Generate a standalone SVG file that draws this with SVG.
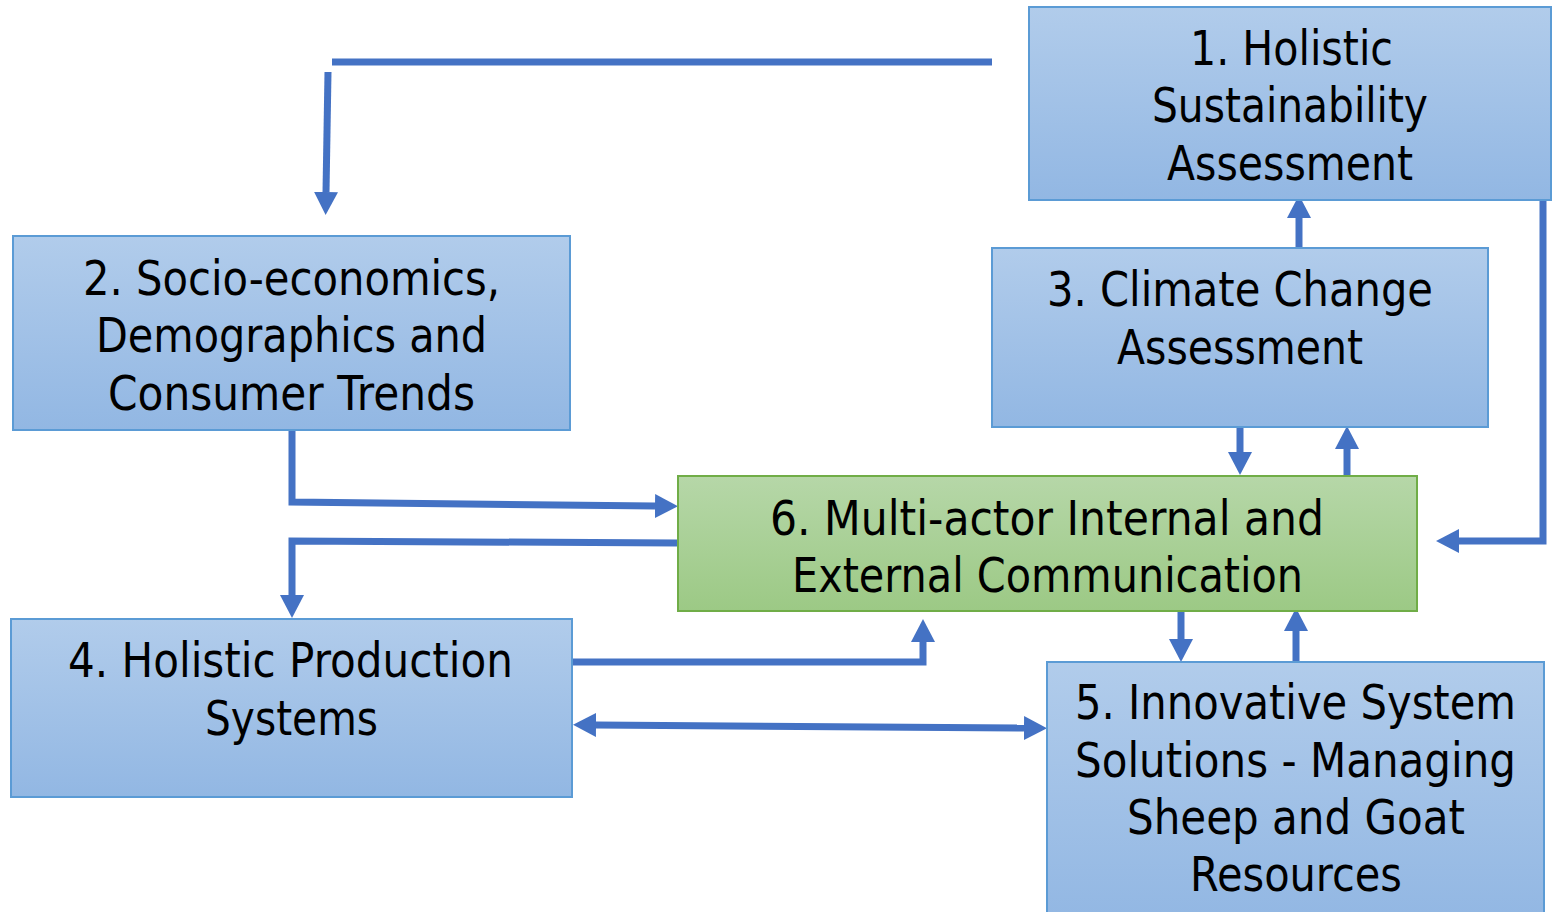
<svg xmlns="http://www.w3.org/2000/svg" width="1556" height="912" viewBox="0 0 1556 912">
<defs>
<linearGradient id="gBlue" x1="0" y1="0" x2="0" y2="1">
<stop offset="0" stop-color="#B1CCEB"/>
<stop offset="1" stop-color="#92B7E3"/>
</linearGradient>
<linearGradient id="gGreen" x1="0" y1="0" x2="0" y2="1">
<stop offset="0" stop-color="#B6D7A8"/>
<stop offset="1" stop-color="#9CC985"/>
</linearGradient>
<marker id="ah" markerUnits="userSpaceOnUse" markerWidth="24" markerHeight="24" viewBox="0 0 24 24" refX="0" refY="12" orient="auto-start-reverse">
<path d="M0,0 L23,12 L0,24 z" fill="#4472C4"/>
</marker>
</defs>
<style>
.box{fill:url(#gBlue);stroke:#5B9BD5;stroke-width:2}
.gbox{fill:url(#gGreen);stroke:#70AD47;stroke-width:2}
text{font-family:"DejaVu Sans","Liberation Sans",sans-serif;font-size:48px;fill:#000}
.c{fill:none;stroke:#4472C4;stroke-width:7;stroke-linejoin:miter}
</style>
<rect width="1556" height="912" fill="#fff"/>
<g id="connectors">
<path class="c" d="M332,62 H992"/>
<path class="c" d="M328,72 L326,192" marker-end="url(#ah)"/>
<path class="c" d="M292,430 V502 L655,506" marker-end="url(#ah)"/>
<path class="c" d="M677,543 L292,541 V595" marker-end="url(#ah)"/>
<path class="c" d="M572,662 H923 V642" marker-end="url(#ah)"/>
<path class="c" d="M596,725 L1024,728" marker-start="url(#ah)" marker-end="url(#ah)"/>
<path class="c" d="M1181,611 V639" marker-end="url(#ah)"/>
<path class="c" d="M1296,662 V631" marker-end="url(#ah)"/>
<path class="c" d="M1240,427 V452" marker-end="url(#ah)"/>
<path class="c" d="M1347,476 V449" marker-end="url(#ah)"/>
<path class="c" d="M1299,247 V218" marker-end="url(#ah)"/>
<path class="c" d="M1543,197 V541 H1459" marker-end="url(#ah)"/>
</g>
<g id="node1">
<rect class="box" x="1029" y="7" width="522" height="193"/>
<text x="1190" y="65" textLength="203" lengthAdjust="spacingAndGlyphs">1. Holistic</text>
<text x="1152" y="122" textLength="276" lengthAdjust="spacingAndGlyphs">Sustainability</text>
<text x="1167" y="180" textLength="246" lengthAdjust="spacingAndGlyphs">Assessment</text>
</g>
<g id="node2">
<rect class="box" x="13" y="236" width="557" height="194"/>
<text x="83" y="295" textLength="417" lengthAdjust="spacingAndGlyphs">2. Socio-economics,</text>
<text x="96" y="352" textLength="391" lengthAdjust="spacingAndGlyphs">Demographics and</text>
<text x="108" y="410" textLength="367" lengthAdjust="spacingAndGlyphs">Consumer Trends</text>
</g>
<g id="node3">
<rect class="box" x="992" y="248" width="496" height="179"/>
<text x="1047" y="306" textLength="386" lengthAdjust="spacingAndGlyphs">3. Climate Change</text>
<text x="1117" y="364" textLength="246" lengthAdjust="spacingAndGlyphs">Assessment</text>
</g>
<g id="node6">
<rect class="gbox" x="678" y="476" width="739" height="135"/>
<text x="770" y="535" textLength="554" lengthAdjust="spacingAndGlyphs">6. Multi-actor Internal and</text>
<text x="792" y="592" textLength="511" lengthAdjust="spacingAndGlyphs">External Communication</text>
</g>
<g id="node4">
<rect class="box" x="11" y="619" width="561" height="178"/>
<text x="68" y="677" textLength="445" lengthAdjust="spacingAndGlyphs">4. Holistic Production</text>
<text x="205" y="735" textLength="173" lengthAdjust="spacingAndGlyphs">Systems</text>
</g>
<g id="node5">
<rect class="box" x="1047" y="662" width="497" height="260"/>
<text x="1075" y="719" textLength="441" lengthAdjust="spacingAndGlyphs">5. Innovative System</text>
<text x="1075" y="777" textLength="441" lengthAdjust="spacingAndGlyphs">Solutions - Managing</text>
<text x="1127" y="834" textLength="338" lengthAdjust="spacingAndGlyphs">Sheep and Goat</text>
<text x="1190" y="891" textLength="212" lengthAdjust="spacingAndGlyphs">Resources</text>
</g>
</svg>
